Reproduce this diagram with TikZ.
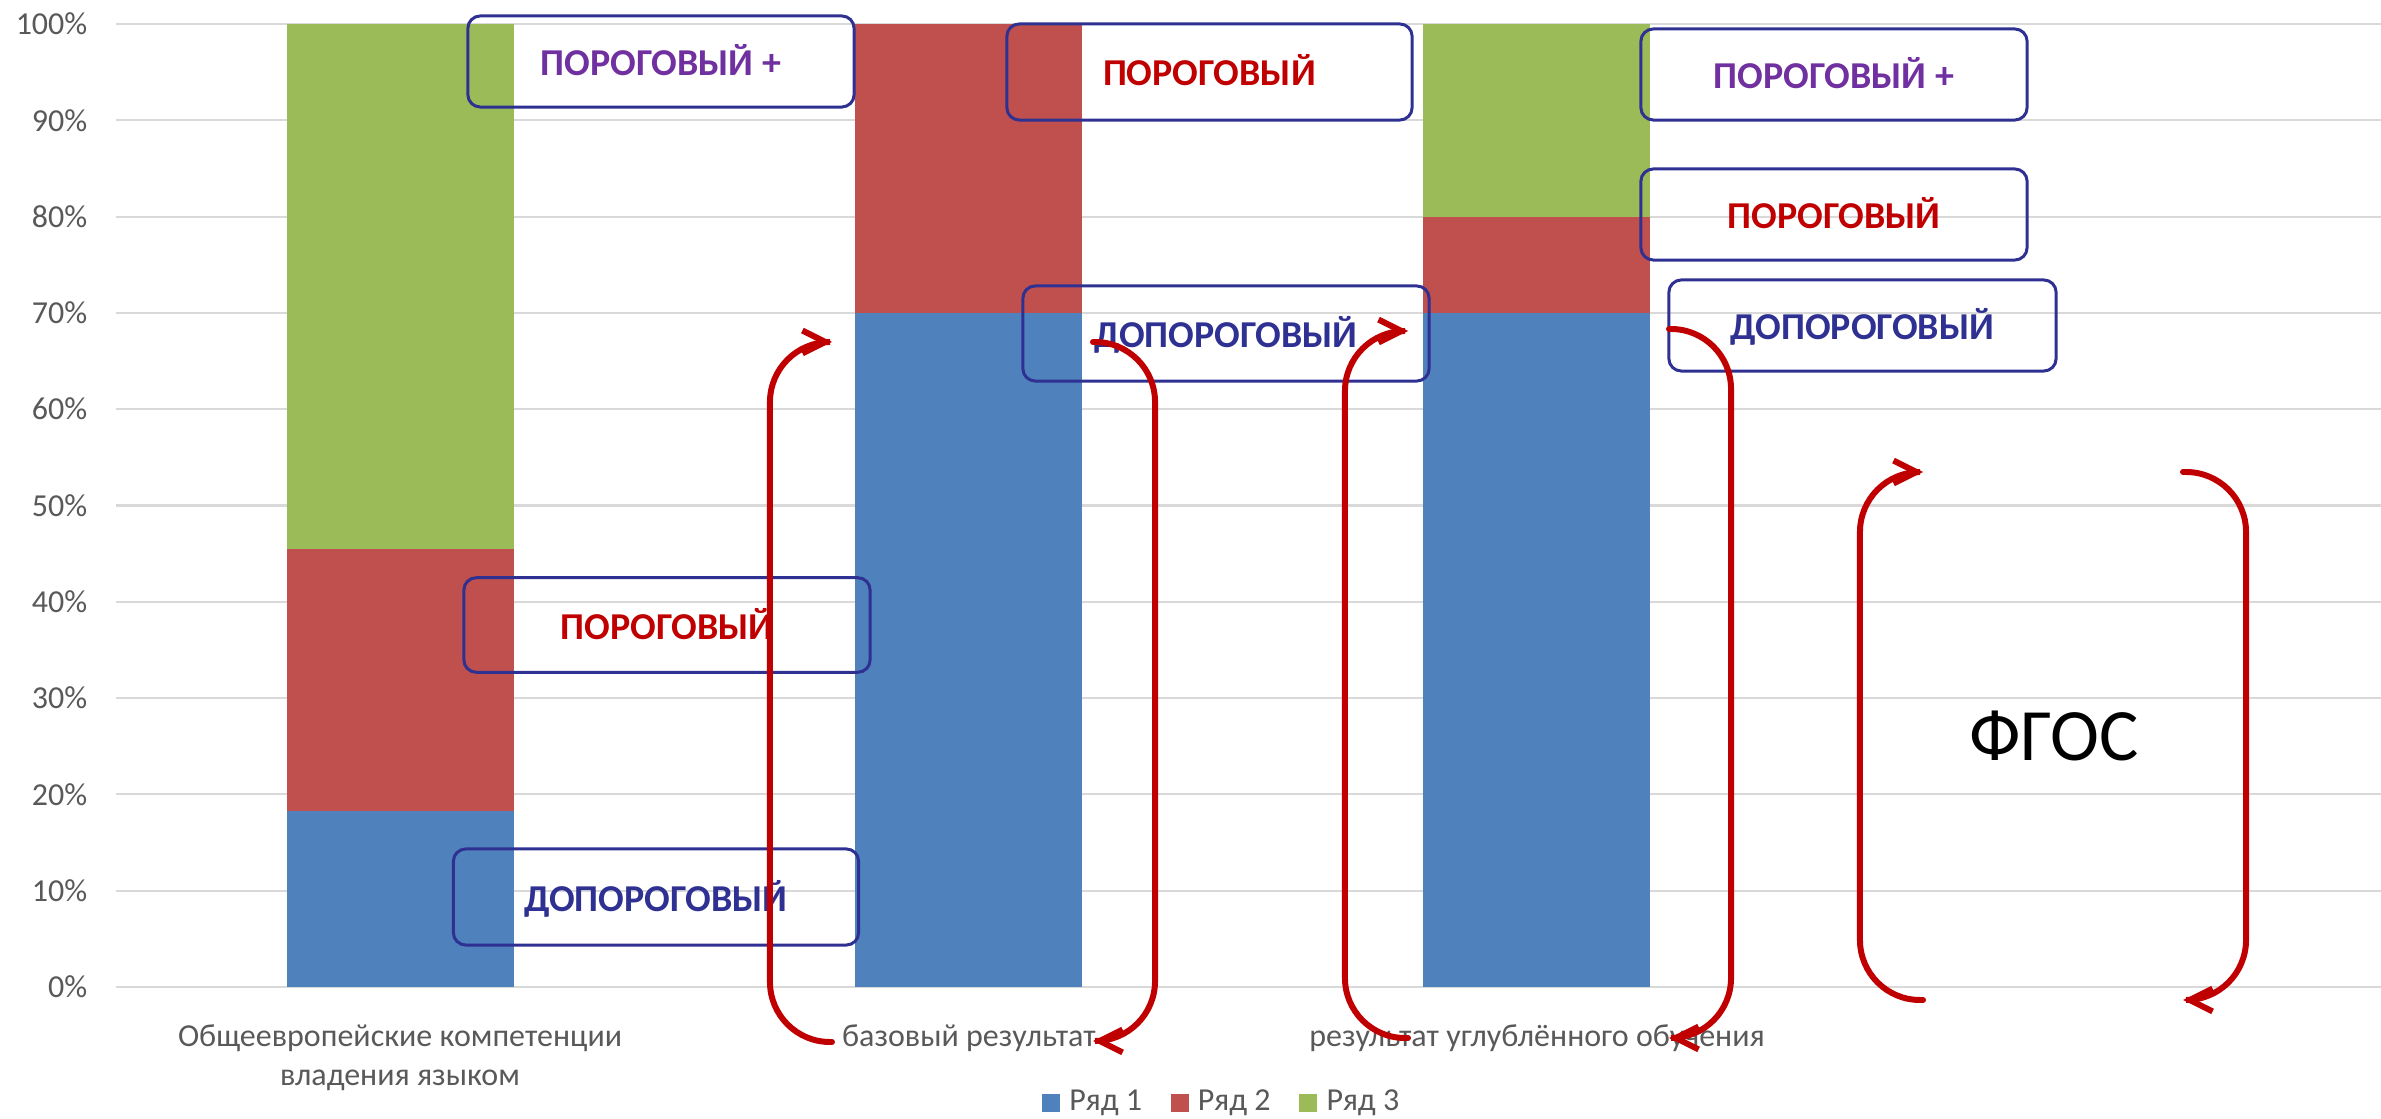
\documentclass[tikz,border=0pt]{standalone}
\usepackage{fontspec}
\setmainfont{Carlito}
\usepackage{tikz}
\usetikzlibrary{arrows.meta,positioning,calc}
\definecolor{serblue}{RGB}{79,129,189}
\definecolor{serred}{RGB}{192,80,77}
\definecolor{sergreen}{RGB}{155,187,89}
\definecolor{boxblue}{RGB}{46,49,146}
\definecolor{txtpurple}{RGB}{112,48,160}
\definecolor{txtred}{RGB}{192,0,0}
\definecolor{axisgray}{RGB}{89,89,89}
\definecolor{gridgray}{RGB}{217,217,217}
\tikzstyle{lvlbox} = [rectangle, draw=boxblue, line width=0.85pt, rounded corners=3.5pt, minimum width=3.86cm, minimum height=0.91cm, text height=0.28cm, text depth=0pt, font=\fontsize{10.8}{13}\selectfont\bfseries]
\tikzstyle{axislabel} = [text=axisgray, inner sep=0pt, font=\fontsize{9.1}{11.1}\selectfont]
\tikzstyle{legsq} = [rectangle, inner sep=0pt, minimum size=0.18cm]
\tikzstyle{redarc} = [draw=txtred, line width=1.7pt, line cap=round, rounded corners=0.6cm, -{Straight Barb[length=6.5pt,width=6.5pt]}]

\begin{document}
\begin{tikzpicture}[x=0.01cm, y=-0.01cm]
        \useasboundingbox (0,0) rectangle (2381,1119);

        \foreach \p in {0,10,...,100}{
            \draw[gridgray, line width=0.6pt] (116,{987-9.63*\p}) -- (2381,{987-9.63*\p});
            \node[axislabel, anchor=east] (t\p) at (88,{987-9.63*\p}) {\p\%};
        }

        \fill[serblue] (287,987) rectangle (514,810.8);
        \fill[serred] (287,810.8) rectangle (514,548.8);
        \fill[sergreen] (287,548.8) rectangle (514,24);

        \fill[serblue] (855,987) rectangle (1082,312.9);
        \fill[serred] (855,312.9) rectangle (1082,24);

        \fill[serblue] (1423,987) rectangle (1650,312.9);
        \fill[serred] (1423,312.9) rectangle (1650,216.6);
        \fill[sergreen] (1423,216.6) rectangle (1650,24);

        \node[lvlbox, text=txtpurple] (a3) at (661,61.5) {ПОРОГОВЫЙ +};
        \node[lvlbox, text=txtred, minimum width=4.06cm, minimum height=0.945cm] (a2) at (667,625) {ПОРОГОВЫЙ};
        \node[lvlbox, text=boxblue, minimum width=4.05cm, minimum height=0.96cm] (a1) at (656,897) {ДОПОРОГОВЫЙ};

        \node[lvlbox, text=txtred, minimum width=4.05cm, minimum height=0.96cm] (b2) at (1209.5,72) {ПОРОГОВЫЙ};
        \node[lvlbox, text=boxblue, minimum width=4.06cm, minimum height=0.95cm] (b1) at (1226,333.5) {ДОПОРОГОВЫЙ};

        \node[lvlbox, text=txtpurple] (c3) at (1834,74.5) {ПОРОГОВЫЙ +};
        \node[lvlbox, text=txtred] (c2) at (1834,214.5) {ПОРОГОВЫЙ};
        \node[lvlbox, text=boxblue, minimum width=3.87cm] (c1) at (1862.5,325.5) {ДОПОРОГОВЫЙ};

        \node[axislabel, align=center, anchor=base] (x1) at (400,1086) {Общеевропейские компетенции\\владения языком};
        \node[axislabel, anchor=base] (x2) at (969,1047) {базовый результат};
        \node[axislabel, anchor=base] (x3) at (1537,1047) {результат углублённого обучения};

        \node[legsq, fill=serblue] (l1) at (1051,1103) {};
        \node[axislabel, right=0.08cm of l1] (n1) {Ряд 1};
        \node[legsq, fill=serred, right=0.27cm of n1] (l2) {};
        \node[axislabel, right=0.08cm of l2] (n2) {Ряд 2};
        \node[legsq, fill=sergreen, right=0.27cm of n2] (l3) {};
        \node[axislabel, right=0.08cm of l3] (n3) {Ряд 3};

        \node[anchor=base, font=\fontsize{21}{25}\selectfont] (fgos) at (2054,761) {ФГОС};

        \coordinate (e1) at (832,1042);
        \coordinate (e2) at (832,342);
        \coordinate (f1) at (1093,342);
        \coordinate (f2) at (1093,1041);
        \coordinate (g1) at (1408,1038);
        \coordinate (g2) at (1408,331);
        \coordinate (h1) at (1669,329);
        \coordinate (h2) at (1669,1038);
        \coordinate (k1) at (1923,1000);
        \coordinate (k2) at (1923,472);
        \coordinate (m1) at (2183,472);
        \coordinate (m2) at (2183,1000);
        \draw[redarc] (e1) -| ([xshift=-0.62cm]e2) -- (e2);
        \draw[redarc] (f1) -| ([xshift=0.62cm]f2) -- (f2);
        \draw[redarc] (g1) -| ([xshift=-0.63cm]g2) -- (g2);
        \draw[redarc] (h1) -| ([xshift=0.62cm]h2) -- (h2);
        \draw[redarc] (k1) -| ([xshift=-0.63cm]k2) -- (k2);
        \draw[redarc] (m1) -| ([xshift=0.63cm]m2) -- (m2);
    \end{tikzpicture}
\end{document}
